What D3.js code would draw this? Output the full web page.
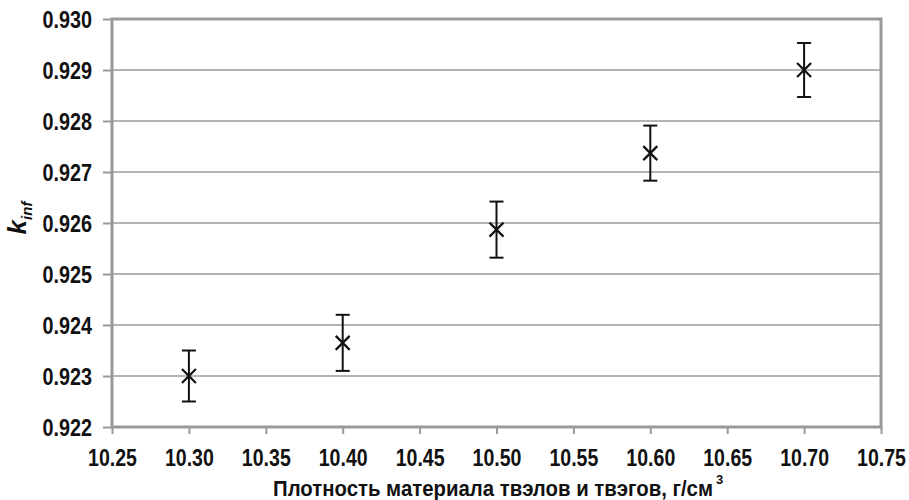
<!DOCTYPE html>
<html>
<head>
<meta charset="utf-8">
<script src="https://cdn.jsdelivr.net/npm/d3@7"></script>
<style>
  body { margin: 0; background: #fff; }
  svg text { font-family: "Liberation Sans", Arial, sans-serif; font-weight: bold; fill: #111; }
</style>
</head>
<body>
<div id="chart"></div>
<script>
const density = [10.30, 10.40, 10.50, 10.60, 10.70];
const kinf = [0.9230, 0.92365, 0.92587, 0.92737, 0.92900];
const kinfErr = [0.0005, 0.00055, 0.00055, 0.00054, 0.00053];
const xTicks = [10.25, 10.30, 10.35, 10.40, 10.45, 10.50, 10.55, 10.60, 10.65, 10.70, 10.75];
const yTicks = [0.922, 0.923, 0.924, 0.925, 0.926, 0.927, 0.928, 0.929, 0.930];

const width = 909, height = 500;
const margin = { top: 19, right: 28, bottom: 73, left: 112 };

const svg = d3.select("#chart").append("svg")
  .attr("width", width)
  .attr("height", height);

const x = d3.scaleLinear().domain([10.25, 10.75]).range([margin.left, width - margin.right]);
const y = d3.scaleLinear().domain([0.922, 0.930]).range([height - margin.bottom, margin.top]);

// narrow the glyphs a bit, the source font is condensed
function squeeze(sel, f) {
  sel.each(function () {
    const len = this.getComputedTextLength();
    d3.select(this).attr("textLength", len * f).attr("lengthAdjust", "spacingAndGlyphs");
  });
}

// grid lines
svg.append("g")
  .selectAll("line")
  .data(yTicks)
  .enter()
  .append("line")
  .attr("x1", margin.left)
  .attr("x2", width - margin.right)
  .attr("y1", d => y(d))
  .attr("y2", d => y(d))
  .attr("stroke", "#b4b4b4")
  .attr("stroke-width", 2);

// frame
svg.append("rect")
  .attr("x", margin.left)
  .attr("y", margin.top)
  .attr("width", width - margin.left - margin.right)
  .attr("height", height - margin.top - margin.bottom)
  .attr("fill", "none")
  .attr("stroke", "#999")
  .attr("stroke-width", 3);

// axes
const xAxis = svg.append("g")
  .attr("transform", `translate(0,${height - margin.bottom})`)
  .call(d3.axisBottom(x).tickValues(xTicks).tickFormat(d3.format(".2f")).tickSize(7).tickPadding(0));

const yAxis = svg.append("g")
  .attr("transform", `translate(${margin.left},0)`)
  .call(d3.axisLeft(y).tickValues(yTicks).tickFormat(d3.format(".3f")).tickSize(9).tickPadding(20));

[xAxis, yAxis].forEach(a => {
  a.select(".domain").remove();
  a.selectAll(".tick line").attr("stroke", "#999").attr("stroke-width", 2);
  a.selectAll(".tick text").style("font-size", "23px").attr("fill", "#111");
});
xAxis.selectAll(".tick text").attr("y", 39).attr("dy", null);
yAxis.selectAll(".tick text").attr("dy", "0.36em").attr("x", -20);
squeeze(xAxis.selectAll(".tick text"), 0.85);
squeeze(yAxis.selectAll(".tick text"), 0.86);

// error bars
const pts = density.map((d, i) => ({ x: d, y: kinf[i], e: kinfErr[i] }));
const capW = 7;

const eb = svg.append("g").attr("stroke", "#111").attr("stroke-width", 2);
eb.selectAll("line.v").data(pts).enter().append("line")
  .attr("x1", d => x(d.x)).attr("x2", d => x(d.x))
  .attr("y1", d => y(d.y - d.e)).attr("y2", d => y(d.y + d.e));
eb.selectAll("line.top").data(pts).enter().append("line")
  .attr("x1", d => x(d.x) - capW).attr("x2", d => x(d.x) + capW)
  .attr("y1", d => y(d.y + d.e)).attr("y2", d => y(d.y + d.e));
eb.selectAll("line.bot").data(pts).enter().append("line")
  .attr("x1", d => x(d.x) - capW).attr("x2", d => x(d.x) + capW)
  .attr("y1", d => y(d.y - d.e)).attr("y2", d => y(d.y - d.e));

// x markers
const m = 7;
svg.append("g")
  .selectAll("path")
  .data(pts)
  .enter()
  .append("path")
  .attr("d", `M${-m},${-m}L${m},${m}M${-m},${m}L${m},${-m}`)
  .attr("transform", d => `translate(${x(d.x)},${y(d.y)})`)
  .attr("stroke", "#111")
  .attr("stroke-width", 2.2)
  .attr("fill", "none");

// axis titles
const xt = svg.append("text")
  .attr("x", 273)
  .attr("y", 496)
  .style("font-size", "22px");
xt.append("tspan")
  .attr("textLength", 440)
  .attr("lengthAdjust", "spacingAndGlyphs")
  .text("Плотность материала твэлов и твэгов, г/см");
xt.append("tspan")
  .attr("dx", 3)
  .attr("dy", -12)
  .style("font-size", "13px")
  .text("3");

const yt = svg.append("text")
  .attr("transform", `translate(26,218) rotate(-90)`)
  .attr("text-anchor", "middle")
  .style("font-style", "italic");
yt.append("tspan").style("font-size", "26px").text("k");
yt.append("tspan").attr("dy", 6).style("font-size", "15px").text("inf");
</script>
</body>
</html>
